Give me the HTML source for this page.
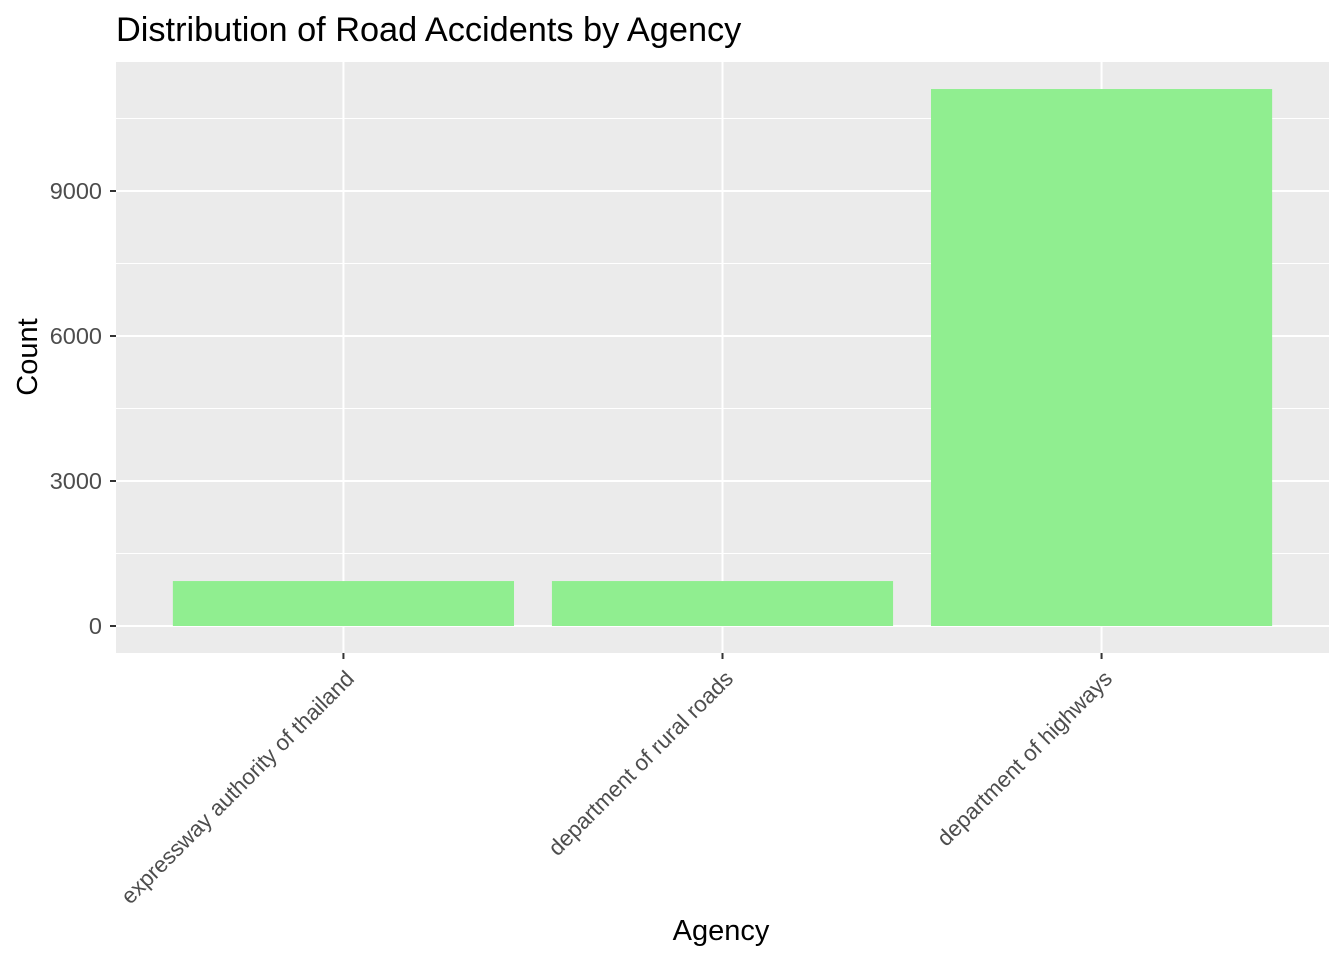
<!DOCTYPE html>
<html><head><meta charset="utf-8">
<style>
body{margin:0;background:#fff;}
svg text{font-family:"Liberation Sans",Arial,sans-serif;}
</style></head>
<body>
<svg width="1344" height="960" xmlns="http://www.w3.org/2000/svg">
<text x="116" y="41" font-size="34.3" fill="#000">Distribution of Road Accidents by Agency</text>
<rect x="116" y="62" width="1213" height="591" fill="#EBEBEB"/>
<g id="grid"></g>
<g id="bars"></g>
<g id="axes"></g>
<text transform="translate(37,357) rotate(-90)" text-anchor="middle" font-size="29" fill="#000">Count</text>
<text x="721" y="940" text-anchor="middle" font-size="29" fill="#000">Agency</text>
</svg>
<script>
const categories=["expressway authority of thailand","department of rural roads","department of highways"];
const counts=[930,930,11110];
const yTicks=[0,3000,6000,9000];
const NS="http://www.w3.org/2000/svg";
const px0=116,px1=1329,py0=62,py1=653;
const y0=626,pxPer=145/3000;
const y=v=>y0-v*pxPer;
const n=categories.length;
const band=(px1-px0)/(n-1+1.2);
const xc=i=>px0+band*(0.6+i);
function mk(t,a,p){const e=document.createElementNS(NS,t);for(const k in a)e.setAttribute(k,a[k]);p.appendChild(e);return e;}
const g=document.getElementById('grid'),b=document.getElementById('bars'),ax=document.getElementById('axes');
for(let i=0;i<yTicks.length;i++){
  const v=yTicks[i];
  if(i<yTicks.length-1){const m=mk('line',{x1:px0,x2:px1,y1:y(v+1500),y2:y(v+1500),stroke:'#fff','stroke-width':1},g);
  
  }
  const l=mk('line',{x1:px0,x2:px1,y1:y(v),y2:y(v),stroke:'#fff','stroke-width':2},g);
  
  
  const tk=mk('line',{x1:110,x2:116,y1:y(v),y2:y(v),stroke:'#333','stroke-width':2},ax);
  
  
  const t=mk('text',{x:102,y:y(v)+8,'text-anchor':'end','font-size':23.5,fill:'#4D4D4D'},ax);
  t.textContent=v;
  
  
}
{const m=mk('line',{x1:px0,x2:px1,y1:y(10500),y2:y(10500),stroke:'#fff','stroke-width':1},g);

}
categories.forEach((c,i)=>{
  const l=mk('line',{x1:xc(i),x2:xc(i),y1:py0,y2:py1,stroke:'#fff','stroke-width':2},g);
  
  
  const w=band*0.9;
  const r=mk('rect',{x:xc(i)-w/2,y:y(counts[i]),width:w,height:y(0)-y(counts[i]),fill:'#90EE90'},b);
  
  
  const tk=mk('line',{x1:xc(i),x2:xc(i),y1:py1,y2:py1+6,stroke:'#333','stroke-width':2},ax);
  
  
  const t=mk('text',{transform:`translate(${xc(i)+12},${py1+27}) rotate(-45)`,'text-anchor':'end','font-size':22.3,fill:'#4D4D4D'},ax);
  t.textContent=c;
  
  
});
</script>
</body></html>
